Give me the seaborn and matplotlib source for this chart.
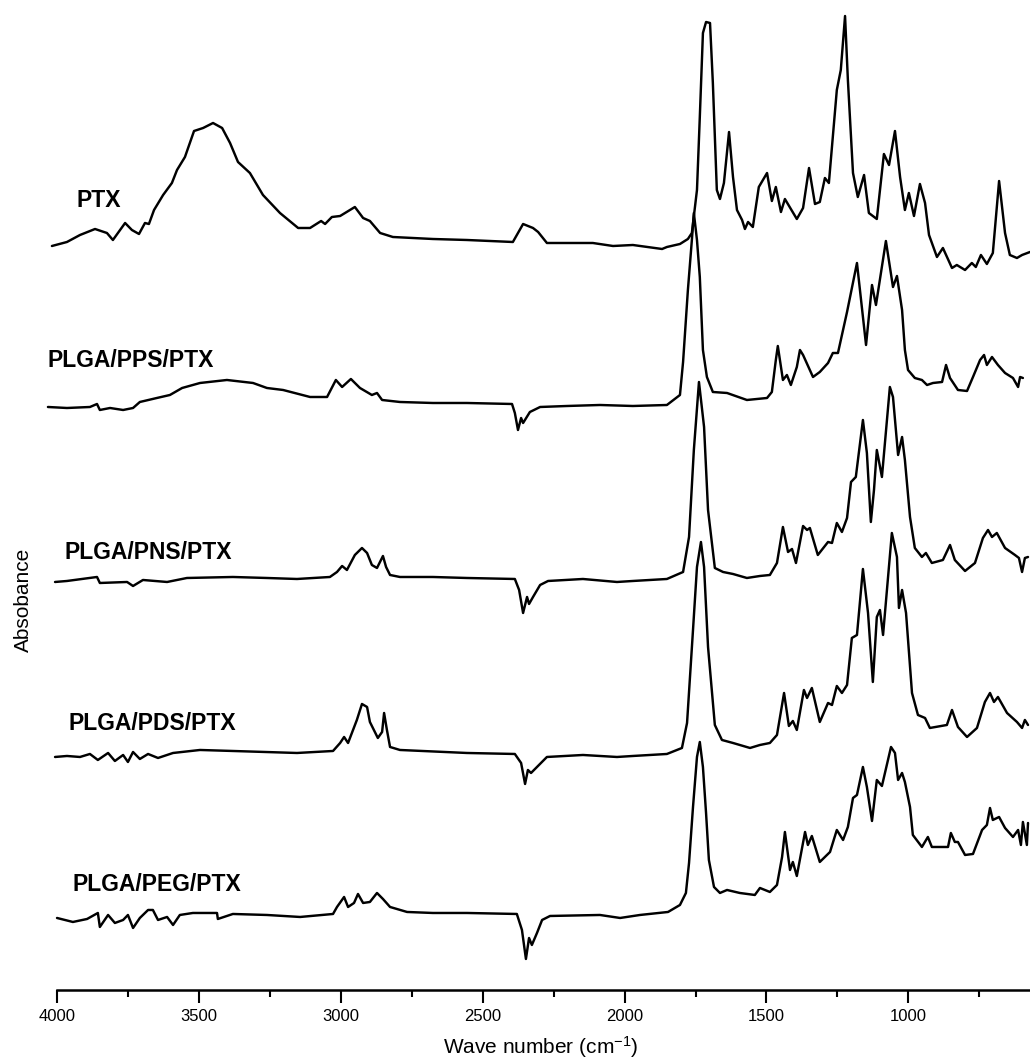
import pandas as pd
import numpy as np
import matplotlib.pyplot as plt
import seaborn as sns

# FTIR spectra as (wavenumber cm-1, stacked absorbance a.u.)
ptx = [(4019, 7.44), (3966, 7.48), (3920, 7.55), (3867, 7.61), (3825, 7.57), (3804, 7.50), (3761, 7.67),
       (3737, 7.60), (3712, 7.56), (3691, 7.67), (3677, 7.66), (3659, 7.80), (3627, 7.95), (3596, 8.07),
       (3578, 8.20), (3550, 8.33), (3518, 8.59), (3486, 8.62), (3451, 8.67), (3419, 8.62), (3391, 8.47),
       (3363, 8.28), (3321, 8.17), (3275, 7.95), (3215, 7.77), (3151, 7.62), (3109, 7.62), (3070, 7.69),
       (3056, 7.66), (3032, 7.73), (3003, 7.74), (2951, 7.83), (2922, 7.72), (2898, 7.69), (2862, 7.57),
       (2817, 7.53), (2676, 7.51), (2556, 7.50), (2394, 7.48), (2358, 7.66), (2323, 7.62), (2305, 7.58),
       (2274, 7.47), (2112, 7.47), (2041, 7.44), (1971, 7.45), (1868, 7.41), (1851, 7.43), (1805, 7.46),
       (1777, 7.51), (1763, 7.57), (1745, 8.00), (1735, 8.73), (1724, 9.57), (1713, 9.68), (1699, 9.67),
       (1689, 9.07), (1675, 8.00), (1664, 7.91), (1650, 8.07), (1632, 8.58), (1618, 8.13), (1604, 7.80),
       (1586, 7.70), (1576, 7.61), (1565, 7.68), (1548, 7.63), (1527, 8.03), (1498, 8.17), (1481, 7.89),
       (1467, 8.03), (1449, 7.78), (1435, 7.91), (1393, 7.71), (1371, 7.82), (1350, 8.22), (1329, 7.86),
       (1312, 7.88), (1294, 8.12), (1280, 8.07), (1252, 9.00), (1238, 9.20), (1223, 9.74), (1213, 9.10),
       (1195, 8.17), (1178, 7.93), (1156, 8.15), (1139, 7.77), (1111, 7.71), (1086, 8.36), (1068, 8.25),
       (1047, 8.59), (1029, 8.13), (1012, 7.80), (998, 7.97), (980, 7.74), (959, 8.06), (941, 7.87),
       (927, 7.55), (899, 7.33), (878, 7.42), (846, 7.22), (829, 7.25), (800, 7.20), (776, 7.27),
       (762, 7.23), (744, 7.35), (723, 7.26), (702, 7.37), (680, 8.09), (659, 7.57), (642, 7.35),
       (617, 7.32), (599, 7.35), (571, 7.38)]

pps = [(4033, 5.83), (3966, 5.82), (3885, 5.83), (3860, 5.86), (3850, 5.80), (3814, 5.82), (3768, 5.80),
       (3733, 5.82), (3709, 5.88), (3649, 5.92), (3603, 5.95), (3560, 6.02), (3497, 6.07), (3402, 6.10),
       (3310, 6.07), (3261, 6.02), (3204, 6.00), (3109, 5.93), (3049, 5.93), (3018, 6.10), (2996, 6.03),
       (2965, 6.11), (2933, 6.02), (2891, 5.95), (2873, 5.97), (2855, 5.90), (2792, 5.88), (2676, 5.87),
       (2556, 5.87), (2397, 5.86), (2387, 5.77), (2376, 5.60), (2365, 5.72), (2358, 5.67), (2334, 5.78),
       (2298, 5.83), (2203, 5.84), (2087, 5.85), (1971, 5.84), (1851, 5.85), (1805, 5.95), (1794, 6.28),
       (1777, 7.00), (1763, 7.50), (1756, 7.77), (1745, 7.50), (1735, 7.13), (1724, 6.40), (1710, 6.13),
       (1689, 5.98), (1639, 5.97), (1569, 5.90), (1498, 5.92), (1481, 5.98), (1467, 6.30), (1460, 6.44),
       (1442, 6.10), (1428, 6.15), (1414, 6.05), (1393, 6.23), (1382, 6.40), (1371, 6.35), (1336, 6.13),
       (1312, 6.18), (1283, 6.27), (1266, 6.37), (1248, 6.37), (1216, 6.78), (1181, 7.27), (1149, 6.45),
       (1128, 7.05), (1114, 6.85), (1079, 7.49), (1054, 7.03), (1040, 7.14), (1022, 6.80), (1012, 6.40),
       (1001, 6.20), (977, 6.12), (952, 6.10), (934, 6.05), (913, 6.07), (881, 6.08), (867, 6.25),
       (853, 6.12), (825, 6.00), (793, 5.99), (772, 6.13), (747, 6.30), (733, 6.35), (723, 6.25),
       (705, 6.33), (684, 6.25), (659, 6.17), (631, 6.12), (613, 6.03), (606, 6.13), (596, 6.12)]

pns = [(4008, 4.08), (3966, 4.09), (3860, 4.13), (3850, 4.07), (3754, 4.08), (3733, 4.04), (3698, 4.10),
       (3613, 4.08), (3543, 4.12), (3381, 4.13), (3261, 4.12), (3155, 4.11), (3039, 4.13), (3014, 4.18),
       (2996, 4.24), (2979, 4.20), (2951, 4.35), (2926, 4.42), (2908, 4.37), (2891, 4.25), (2873, 4.22),
       (2852, 4.34), (2841, 4.23), (2827, 4.15), (2792, 4.13), (2676, 4.13), (2556, 4.12), (2387, 4.11),
       (2372, 4.00), (2358, 3.77), (2344, 3.93), (2337, 3.86), (2323, 3.93), (2298, 4.05), (2270, 4.09),
       (2147, 4.11), (2027, 4.08), (1971, 4.09), (1851, 4.11), (1794, 4.18), (1773, 4.53), (1756, 5.40),
       (1738, 6.08), (1720, 5.63), (1706, 4.80), (1682, 4.22), (1653, 4.18), (1618, 4.16), (1569, 4.12),
       (1523, 4.14), (1488, 4.15), (1463, 4.27), (1442, 4.63), (1424, 4.38), (1410, 4.41), (1396, 4.27),
       (1371, 4.64), (1357, 4.60), (1347, 4.62), (1319, 4.35), (1283, 4.48), (1269, 4.47), (1252, 4.67),
       (1234, 4.58), (1216, 4.72), (1202, 5.08), (1185, 5.13), (1160, 5.70), (1146, 5.37), (1132, 4.68),
       (1121, 5.00), (1111, 5.40), (1093, 5.13), (1065, 6.03), (1054, 5.93), (1036, 5.35), (1022, 5.53),
       (1012, 5.30), (994, 4.73), (977, 4.42), (952, 4.33), (938, 4.37), (917, 4.27), (878, 4.30),
       (853, 4.45), (836, 4.30), (800, 4.19), (765, 4.27), (737, 4.52), (719, 4.60), (705, 4.53),
       (688, 4.57), (659, 4.42), (624, 4.35), (610, 4.32), (599, 4.18), (589, 4.32), (578, 4.33)]

pds = [(4008, 2.33), (3966, 2.34), (3920, 2.33), (3885, 2.36), (3857, 2.30), (3821, 2.37), (3797, 2.29),
       (3768, 2.35), (3751, 2.28), (3733, 2.38), (3709, 2.31), (3680, 2.36), (3645, 2.32), (3592, 2.37),
       (3497, 2.40), (3381, 2.39), (3155, 2.37), (3028, 2.39), (3003, 2.47), (2989, 2.53), (2975, 2.47),
       (2944, 2.70), (2926, 2.86), (2908, 2.83), (2898, 2.68), (2870, 2.52), (2855, 2.58), (2848, 2.77),
       (2838, 2.60), (2827, 2.43), (2792, 2.40), (2556, 2.37), (2387, 2.36), (2365, 2.27), (2351, 2.06),
       (2341, 2.20), (2330, 2.17), (2309, 2.23), (2274, 2.33), (2147, 2.35), (2027, 2.33), (1971, 2.34),
       (1851, 2.36), (1798, 2.42), (1780, 2.67), (1759, 3.60), (1745, 4.23), (1731, 4.48), (1720, 4.23),
       (1706, 3.43), (1682, 2.65), (1657, 2.50), (1618, 2.47), (1558, 2.42), (1523, 2.45), (1488, 2.47),
       (1463, 2.55), (1438, 2.97), (1421, 2.64), (1407, 2.69), (1393, 2.60), (1368, 3.00), (1357, 2.92),
       (1340, 3.02), (1312, 2.68), (1283, 2.87), (1269, 2.85), (1252, 3.04), (1234, 2.97), (1216, 3.05),
       (1199, 3.52), (1181, 3.55), (1160, 4.21), (1142, 3.77), (1125, 3.08), (1111, 3.73), (1100, 3.80),
       (1089, 3.55), (1058, 4.57), (1040, 4.33), (1033, 3.82), (1022, 4.00), (1008, 3.77), (987, 2.97),
       (966, 2.75), (941, 2.72), (924, 2.62), (864, 2.65), (846, 2.80), (825, 2.63), (793, 2.53),
       (758, 2.62), (730, 2.88), (712, 2.97), (698, 2.88), (684, 2.93), (652, 2.77), (617, 2.68),
       (599, 2.62), (589, 2.70), (578, 2.65)]

peg = [(4001, 0.72), (3945, 0.68), (3895, 0.71), (3857, 0.77), (3850, 0.63), (3821, 0.75), (3797, 0.67),
       (3768, 0.70), (3751, 0.75), (3733, 0.62), (3709, 0.72), (3680, 0.80), (3663, 0.80), (3645, 0.70),
       (3613, 0.73), (3592, 0.65), (3568, 0.75), (3522, 0.77), (3437, 0.77), (3434, 0.71), (3381, 0.76),
       (3261, 0.75), (3144, 0.73), (3028, 0.76), (3014, 0.83), (2989, 0.93), (2975, 0.83), (2954, 0.87),
       (2940, 0.96), (2922, 0.87), (2898, 0.88), (2873, 0.97), (2852, 0.91), (2827, 0.83), (2767, 0.78),
       (2676, 0.77), (2556, 0.77), (2380, 0.76), (2362, 0.60), (2348, 0.31), (2337, 0.52), (2327, 0.45),
       (2309, 0.57), (2291, 0.70), (2263, 0.74), (2087, 0.75), (2016, 0.72), (1946, 0.75), (1847, 0.78),
       (1805, 0.85), (1784, 0.97), (1773, 1.27), (1759, 1.83), (1745, 2.33), (1735, 2.48), (1724, 2.23),
       (1713, 1.77), (1703, 1.30), (1685, 1.03), (1664, 0.97), (1639, 1.00), (1594, 0.97), (1541, 0.95),
       (1523, 1.02), (1488, 0.98), (1463, 1.05), (1445, 1.33), (1435, 1.58), (1417, 1.20), (1407, 1.28),
       (1393, 1.14), (1364, 1.58), (1354, 1.45), (1340, 1.54), (1312, 1.28), (1276, 1.38), (1252, 1.60),
       (1230, 1.50), (1213, 1.63), (1195, 1.92), (1181, 1.95), (1160, 2.23), (1146, 2.03), (1128, 1.69),
       (1111, 2.10), (1093, 2.04), (1061, 2.43), (1047, 2.37), (1036, 2.10), (1022, 2.17), (1012, 2.08),
       (994, 1.83), (984, 1.55), (952, 1.43), (931, 1.53), (917, 1.43), (860, 1.43), (850, 1.57),
       (836, 1.48), (825, 1.48), (800, 1.35), (772, 1.36), (740, 1.60), (723, 1.65), (712, 1.82),
       (702, 1.70), (680, 1.73), (659, 1.62), (631, 1.53), (613, 1.60), (603, 1.45), (596, 1.68),
       (582, 1.45), (578, 1.67)]

samples = ['PTX', 'PLGA/PPS/PTX', 'PLGA/PNS/PTX', 'PLGA/PDS/PTX', 'PLGA/PEG/PTX']
label_wn = [3931, 4033, 3973, 3962, 3945]
label_y = [7.89, 6.29, 4.37, 2.66, 1.05]

major_ticks = [4000, 3500, 3000, 2500, 2000, 1500, 1000]
minor_ticks = [3750, 3250, 2750, 2250, 1750, 1250, 750]

frames = []
for name, pts in zip(samples, [ptx, pps, pns, pds, peg]):
    d = pd.DataFrame(pts, columns=['wavenumber', 'absorbance'])
    d['sample'] = name
    frames.append(d)
df = pd.concat(frames, ignore_index=True)

sns.set_theme(style='ticks')
plt.rcParams['font.family'] = ['Liberation Sans', 'DejaVu Sans']
plt.rcParams['mathtext.fontset'] = 'custom'
plt.rcParams['mathtext.rm'] = 'Liberation Sans'
plt.rcParams['mathtext.default'] = 'regular'

fig = plt.figure(figsize=(10.3, 10.63), dpi=100)
ax = fig.add_axes([0, 0.0687, 1, 0.9313])

sns.lineplot(data=df, x='wavenumber', y='absorbance', units='sample', estimator=None,
             sort=False, color='black', linewidth=1.75, solid_joinstyle='round', ax=ax)

for name, wx, wy in zip(samples, label_wn, label_y):
    ax.text(wx, wy, name, fontsize=16.5, fontweight='bold', ha='left', va='center', color='black')

ax.set_xlim(4202, 571)
ax.set_ylim(0, 9.9)
ax.set_yticks([])
for side in ['left', 'top', 'right']:
    ax.spines[side].set_visible(False)
ax.spines['bottom'].set_bounds(4000, 571)
ax.spines['bottom'].set_linewidth(1.8)
ax.spines['bottom'].set_color('black')

ax.set_xticks(major_ticks)
ax.set_xticks(minor_ticks, minor=True)
ax.tick_params(axis='x', which='major', length=9, width=1.5, direction='out', labelsize=12,
               pad=5, color='black', labelcolor='black')
ax.tick_params(axis='x', which='minor', length=5, width=1.5, direction='out', color='black')

ax.set_xlabel('Wave number (cm$^{-1}$)', fontsize=15, color='black')
ax.xaxis.set_label_coords(0.525, -0.045)
ax.set_ylabel('Absobance', fontsize=15, color='black')
ax.yaxis.set_label_coords(0.032, 0.394)

fig.savefig('out.png', dpi=100)
